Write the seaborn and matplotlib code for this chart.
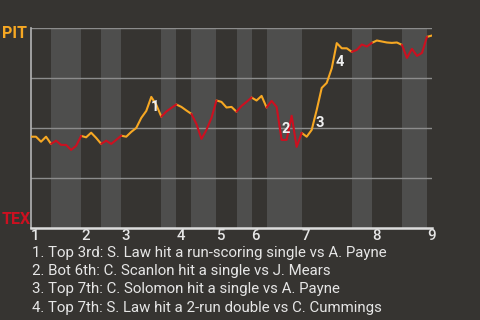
import numpy as np
import pandas as pd
import matplotlib
matplotlib.use("Agg")
import matplotlib.pyplot as plt
import matplotlib.transforms as mtransforms
import seaborn as sns

# ---- data ----
# PIT win probability (%) after each game event
win_prob = [45.8, 45.8, 43.3, 45.8, 42.2, 43.8, 41.7, 41.7, 39.2, 41.2,
            46.2, 45.5, 47.8, 45.2, 42.2, 43.8, 42.2, 44.2, 46.3, 45.8,
            48.2, 50.2, 55.2, 58.7, 65.7, 61.7, 55.8, 58.4, 60.2, 61.9,
            60.7, 58.9, 57.2, 52.2, 44.7, 49.2, 55.2, 63.9, 63.2, 60.4,
            60.7, 58.3, 61.2, 63.2, 65.4, 63.9, 66.2, 60.4, 63.7, 60.7,
            44.2, 44.2, 56.3, 40.7, 47.7, 45.8, 49.2, 59.2, 70.2, 72.7,
            80.0, 92.6, 90.0, 90.0, 88.2, 89.2, 91.9, 90.9, 92.7, 93.9,
            93.4, 92.9, 92.7, 92.9, 91.7, 85.2, 89.7, 86.2, 87.7, 95.7,
            96.4]
# event index where each half inning starts (top 1, bot 1, top 2, ...)
half_starts = [0, 4, 10, 14, 18, 26, 29, 32, 37, 41, 44, 47, 54, 64, 68, 74, 79]
innings = ["1", "2", "3", "4", "5", "6", "7", "8", "9"]
teams = ["PIT", "TEX"]
notes_idx = ["1", "2", "3", "4"]
notes_x = [24.8, 50.8, 57.7, 61.7]
notes_y = [60.7, 49.7, 52.6, 83.2]
captions = [
    "1. Top 3rd: S. Law hit a run-scoring single vs A. Payne",
    "2. Bot 6th: C. Scanlon hit a single vs J. Mears",
    "3. Top 7th: C. Solomon hit a single vs A. Payne",
    "4. Top 7th: S. Law hit a 2-run double vs C. Cummings",
]

# ---- style ----
BG = "#363431"
BAND = "#4e4e4d"
ORANGE = "#f7a823"
RED = "#cc1020"
TXT = "#e6e6e6"

sns.set_theme(style="dark")
plt.rcParams["font.family"] = ["Roboto", "DejaVu Sans"]

n = len(win_prob)
x_end = n - 1
bounds = half_starts + [x_end]

rows = []
for h in range(len(half_starts)):
    a, b = bounds[h], bounds[h + 1]
    for i in range(a, b + 1):
        rows.append({"event": i, "prob": win_prob[i],
                     "team": teams[h % 2], "half": h})
df = pd.DataFrame(rows)

fig = plt.figure(figsize=(4.8, 3.2), dpi=100, facecolor=BG)
ax = fig.add_axes([31 / 480, 1 - 228.3 / 320, 401 / 480, 200 / 320])
ax.set_facecolor(BG)

# shaded bottom halves
for h in range(1, len(half_starts), 2):
    ax.axvspan(bounds[h], bounds[h + 1], color=BAND, lw=0, zorder=0)

for yv in [25, 50, 75, 100]:
    ax.axhline(yv, color="#8c8c8c", lw=1.0, zorder=1)

sns.lineplot(data=df, x="event", y="prob", hue="team", units="half",
             estimator=None, palette={"PIT": ORANGE, "TEX": RED},
             lw=1.5, legend=False, ax=ax, zorder=3)

ax.set_xlim(0, x_end)
ax.set_ylim(0, 100)
ax.set_xlabel("")
ax.set_ylabel("")
ax.set_yticks([])
inning_starts = half_starts[0::2]
ax.set_xticks(inning_starts)
ax.set_xticklabels(innings, color=TXT, fontsize=10.8, fontweight="medium")
for lab in ax.get_xticklabels():
    lab.set_horizontalalignment("left")
    lab.set_transform(lab.get_transform() +
                      mtransforms.ScaledTranslation(1.5 / 100, 0, fig.dpi_scale_trans))
ax.tick_params(axis="x", length=0, pad=0.5)

for s in ["top", "right"]:
    ax.spines[s].set_visible(False)
ax.spines["left"].set_color("#b4b4b4")
ax.spines["left"].set_linewidth(1.2)
ax.spines["bottom"].set_color("#dcdcdc")
ax.spines["bottom"].set_linewidth(1.8)

for lab, xx, yy in zip(notes_idx, notes_x, notes_y):
    ax.text(xx, yy, lab, color="#f0f0f0", fontsize=10.5, fontweight="bold",
            ha="center", va="center", zorder=5)

fig.text(2 / 480, 1 - 33.5 / 320, teams[0], color=ORANGE, fontsize=11.5,
         fontweight="bold", ha="left", va="center")
fig.text(2 / 480, 1 - 220 / 320, teams[1], color=RED, fontsize=11.5,
         fontweight="bold", ha="left", va="center")

for k, c in enumerate(captions):
    fig.text(32 / 480, 1 - (257.3 + 18.1 * k) / 320, c, color=TXT,
             fontsize=10.8, ha="left", va="baseline")

fig.savefig("out.png", dpi=100, facecolor=BG)
